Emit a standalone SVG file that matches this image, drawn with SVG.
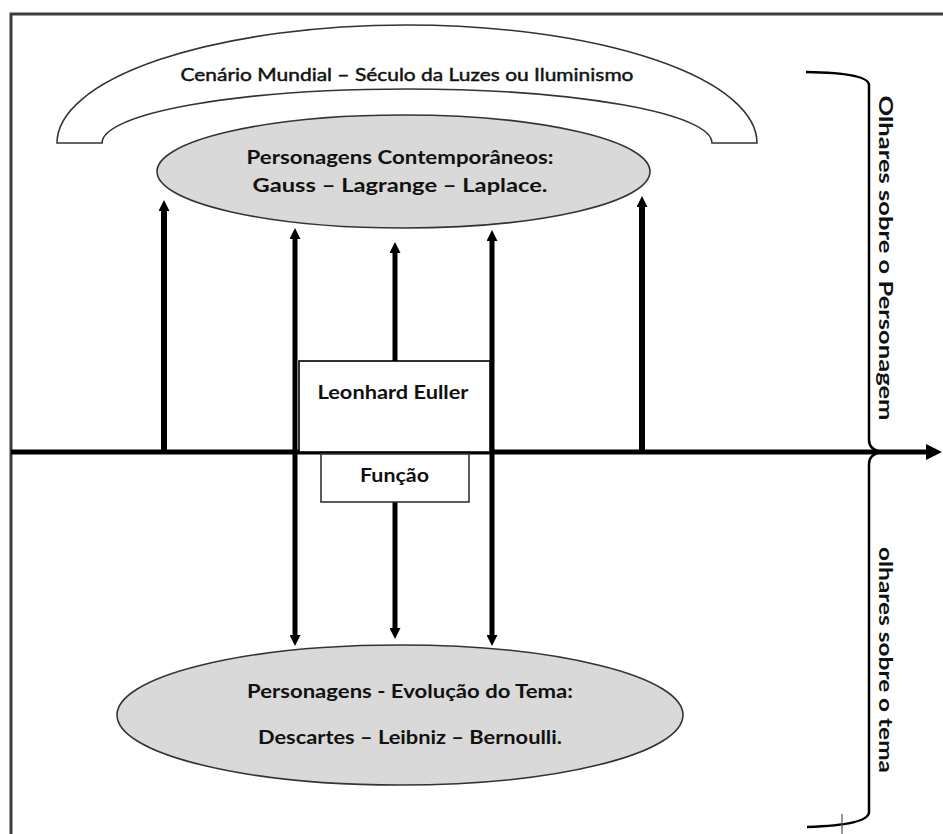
<svg xmlns="http://www.w3.org/2000/svg" width="943" height="834" viewBox="0 0 943 834">
<defs>
<style>
.t{font-family:Lato,"Open Sans","Liberation Sans",sans-serif;font-size:18px;fill:#111;text-anchor:middle}
.b{font-weight:bold}
.m{stroke:#111;stroke-width:0.45}
.shape{stroke:#333;stroke-width:1.6}
.arr{stroke:#000;fill:none}
</style>
<marker id="ah" viewBox="0 0 10 10" refX="0" refY="5" markerUnits="userSpaceOnUse" markerWidth="11" markerHeight="11" orient="auto">
<path d="M0,0 L10,5 L0,10 z" fill="#000"/>
</marker>
<marker id="ahBig" viewBox="0 0 10 10" refX="0" refY="5" markerUnits="userSpaceOnUse" markerWidth="17" markerHeight="16" orient="auto">
<path d="M0,0 L10,5 L0,10 z" fill="#000"/>
</marker>
</defs>
<rect width="943" height="834" fill="#fff"/>
<g id="frame">
<path d="M11,834 L11,14 L943,14" fill="none" stroke="#3c3c3c" stroke-width="3"/>
</g>
<g id="cenario">
<path class="shape" d="M57,143 A350,118 0 0 1 757,143 L712,143 A305,54 0 0 0 102,143 Z" fill="#fff"/>
<text class="t m" x="407" y="81" textLength="453" lengthAdjust="spacingAndGlyphs">Cenário Mundial – Século da Luzes ou Iluminismo</text>
</g>
<g id="contemporaneos">
<ellipse class="shape" cx="403.5" cy="171.5" rx="246.5" ry="56.5" fill="#d9d9d9"/>
<text class="t b" x="400" y="164" textLength="307" lengthAdjust="spacingAndGlyphs">Personagens Contemporâneos:</text>
<text class="t b" x="400" y="192" textLength="295" lengthAdjust="spacingAndGlyphs">Gauss – Lagrange – Laplace.</text>
</g>
<g id="evolucao">
<ellipse class="shape" cx="400" cy="715" rx="283" ry="70" fill="#d9d9d9"/>
<text class="t b" x="410" y="698" textLength="326" lengthAdjust="spacingAndGlyphs">Personagens - Evolução do Tema:</text>
<text class="t b" x="410" y="744" textLength="304" lengthAdjust="spacingAndGlyphs">Descartes – Leibniz – Bernoulli.</text>
</g>
<g id="connectors">
<line class="arr" x1="11" y1="452" x2="926" y2="452" stroke-width="5" marker-end="url(#ahBig)"/>
<line class="arr" x1="164" y1="452" x2="164" y2="211" stroke-width="6" marker-end="url(#ah)"/>
<line class="arr" x1="642" y1="452" x2="642" y2="207" stroke-width="6" marker-end="url(#ah)"/>
<line class="arr" x1="295" y1="454" x2="295" y2="239" stroke-width="5" marker-end="url(#ah)"/>
<line class="arr" x1="395" y1="361" x2="395" y2="253" stroke-width="5" marker-end="url(#ah)"/>
<line class="arr" x1="492" y1="454" x2="492" y2="241" stroke-width="5" marker-end="url(#ah)"/>
<line class="arr" x1="295" y1="450" x2="295" y2="635" stroke-width="5" marker-end="url(#ah)"/>
<line class="arr" x1="395" y1="502" x2="395" y2="628" stroke-width="5" marker-end="url(#ah)"/>
<line class="arr" x1="492" y1="450" x2="492" y2="635" stroke-width="5" marker-end="url(#ah)"/>
</g>
<g id="euller">
<rect x="299" y="361" width="191" height="91" fill="#fff" stroke="#000" stroke-width="1.6"/>
<text class="t b" x="393" y="399" textLength="151" lengthAdjust="spacingAndGlyphs">Leonhard Euller</text>
</g>
<g id="funcao">
<rect x="321" y="454" width="148" height="48" fill="#fff" stroke="#333" stroke-width="1.6"/>
<text class="t b" x="394.5" y="482" textLength="69" lengthAdjust="spacingAndGlyphs">Função</text>
</g>
<g id="brace">
<path d="M806,72 Q869,73 869,85 L869,440 Q869,450 882,452 Q869,454 869,464 L869,812 Q869,825 807,827" fill="none" stroke="#000" stroke-width="2.5"/>
<line x1="842" y1="814" x2="842" y2="834" stroke="#555" stroke-width="1.2"/>
<text class="t b" transform="translate(879,258) rotate(90)" textLength="325" lengthAdjust="spacingAndGlyphs">Olhares sobre o Personagem</text>
<text class="t b" transform="translate(879,660) rotate(90)" textLength="226" lengthAdjust="spacingAndGlyphs">olhares sobre o tema</text>
</g>
</svg>
